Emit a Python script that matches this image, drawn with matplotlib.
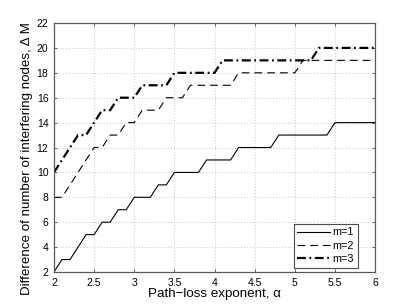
"""
Difference of number of interfering nodes vs. path-loss exponent.
"""

import matplotlib
matplotlib.use("Agg")
import matplotlib.pyplot as plt

# Path-loss exponent samples
alpha = [2.0, 2.1, 2.2, 2.3, 2.4, 2.5, 2.6, 2.7, 2.8, 2.9,
         3.0, 3.1, 3.2, 3.3, 3.4, 3.5, 3.6, 3.7, 3.8, 3.9,
         4.0, 4.1, 4.2, 4.3, 4.4, 4.5, 4.6, 4.7, 4.8, 4.9,
         5.0, 5.1, 5.2, 5.3, 5.4, 5.5, 5.6, 5.7, 5.8, 5.9,
         6.0]

# Delta M for each m
dm_m1 = [2, 3, 3, 4, 5, 5, 6, 6, 7, 7,
         8, 8, 8, 9, 9, 10, 10, 10, 10, 11,
         11, 11, 11, 12, 12, 12, 12, 12, 13, 13,
         13, 13, 13, 13, 13, 14, 14, 14, 14, 14,
         14]
dm_m2 = [8, 8, 9, 10, 11, 12, 12, 13, 13, 14,
         14, 15, 15, 15, 16, 16, 16, 17, 17, 17,
         17, 17, 17, 18, 18, 18, 18, 18, 18, 18,
         18, 19, 19, 19, 19, 19, 19, 19, 19, 19,
         19]
dm_m3 = [10, 11, 12, 13, 13, 14, 15, 15, 16, 16,
         16, 17, 17, 17, 17, 18, 18, 18, 18, 18,
         18, 19, 19, 19, 19, 19, 19, 19, 19, 19,
         19, 19, 19, 20, 20, 20, 20, 20, 20, 20,
         20]

series_labels = ["m=1", "m=2", "m=3"]
x_ticks = [2, 2.5, 3, 3.5, 4, 4.5, 5, 5.5, 6]
x_tick_labels = ["2", "2.5", "3", "3.5", "4", "4.5", "5", "5.5", "6"]
y_ticks = [2, 4, 6, 8, 10, 12, 14, 16, 18, 20, 22]

plt.rcParams["font.family"] = ["Liberation Sans", "DejaVu Sans"]

fig = plt.figure(figsize=(4.15, 3.07), dpi=100)
ax = fig.add_axes([0.130, 0.114, 0.774, 0.811])

# curves
ax.plot(alpha, dm_m1, color="black", lw=0.8, linestyle="-", label=series_labels[0])
ax.plot(alpha, dm_m2, color="black", lw=0.8, linestyle=(0, (7, 4.5)), label=series_labels[1])
ax.plot(alpha, dm_m3, color="black", lw=1.6, linestyle=(0, (4, 1.6, 0.8, 1.6)), label=series_labels[2])

ax.set_xlim(2, 6)
ax.set_ylim(2, 22)
ax.set_xticks(x_ticks)
ax.set_xticklabels(x_tick_labels)
ax.set_yticks(y_ticks)

# MATLAB-like box, inward ticks and dotted grid
ax.grid(True, color="#b0b0b0", linestyle=(0, (1, 2.5)), linewidth=0.6)
ax.tick_params(direction="in", length=2.5, width=0.6, colors="0.3",
               labelcolor="black", labelsize=7.5, top=True, right=True, pad=4)
for s in ax.spines.values():
    s.set_color("0.35")
    s.set_linewidth(0.9)

ax.set_xlabel("Path\u2212loss exponent, \u03b1", fontsize=9.6, labelpad=0.5)
ax.set_ylabel("Difference of number of interfering nodes, \u0394 M", fontsize=9.6)
# label sits a bit below the axes centre in the original
ax.yaxis.set_label_coords(-0.064, 0.455)

leg = ax.legend(loc="lower right", bbox_to_anchor=(0.946, 0.017), borderaxespad=0,
                fontsize=7.8, fancybox=False, framealpha=1, handlelength=3.0,
                handletextpad=0.25, labelspacing=0.3, borderpad=0.35)
leg.get_frame().set_edgecolor("0.3")
leg.get_frame().set_linewidth(0.8)

fig.savefig("out.png", dpi=100)
